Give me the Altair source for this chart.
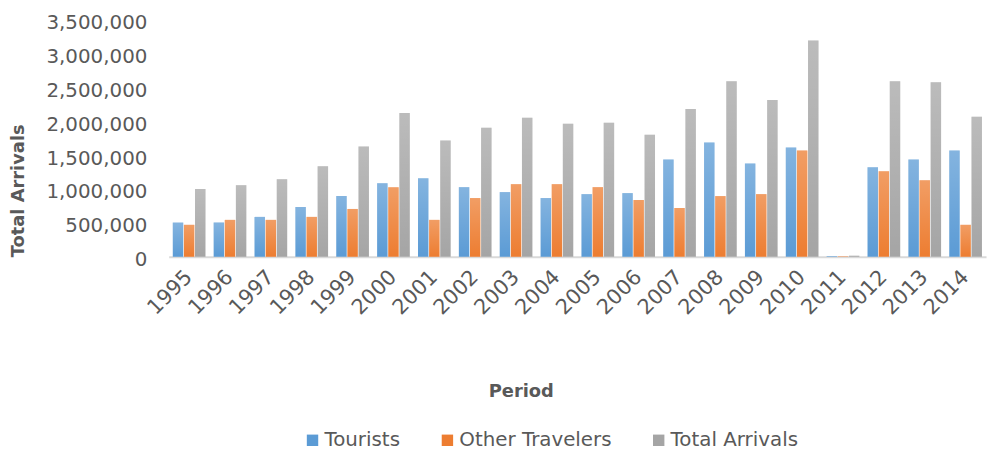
import altair as alt
import pandas as pd

years = ["1995", "1996", "1997", "1998", "1999", "2000", "2001", "2002", "2003", "2004",
         "2005", "2006", "2007", "2008", "2009", "2010", "2011", "2012", "2013", "2014"]
tourists = [505000, 506000, 589000, 735000, 896000, 1086000, 1159000, 1028000, 955000, 867000,
            925000, 940000, 1437000, 1686000, 1379000, 1613000, 9000, 1320000, 1437000, 1569000]
other_travelers = [472000, 545000, 545000, 589000, 706000, 1028000, 545000, 867000, 1072000, 1072000,
                   1028000, 838000, 721000, 896000, 925000, 1569000, 7000, 1262000, 1130000, 472000]
total_arrivals = [1000000, 1057000, 1145000, 1335000, 1627000, 2124000, 1715000, 1905000, 2051000, 1963000,
                  1978000, 1803000, 2183000, 2592000, 2314000, 3192000, 16000, 2592000, 2578000, 2066000]

series = ["Tourists", "Other Travelers", "Total Arrivals"]
colors = ["#5B9BD5", "#ED7D31", "#A5A5A5"]
y_ticks = [0, 500000, 1000000, 1500000, 2000000, 2500000, 3000000, 3500000]

rows = []
for name, vals in zip(series, [tourists, other_travelers, total_arrivals]):
    for yr, v in zip(years, vals):
        rows.append({"Year": yr, "Series": name, "Value": v})
df = pd.DataFrame(rows)

FONT = "DejaVu Sans"
GREY = "#595959"

base = alt.Chart(df).encode(
    x=alt.X(
        "Year:N",
        sort=years,
        scale=alt.Scale(paddingInner=0.2, paddingOuter=0.1),
        axis=alt.Axis(
            title="Period",
            labelAngle=-45,
            labelAlign="right",
            labelBaseline="middle",
            labelFont=FONT,
            labelFontSize=21,
            labelColor=GREY,
            labelPadding=17,
            ticks=False,
            domainColor="#D9D9D9",
            domainWidth=2,
            grid=False,
            titleFont=FONT,
            titleFontSize=18,
            titleFontWeight="bold",
            titleColor=GREY,
            titleX=355,
            titleY=141,
            titleBaseline="alphabetic",
            titleAlign="center",
        ),
    ),
    xOffset=alt.XOffset("Series:N", sort=series, scale=alt.Scale(domain=series, paddingInner=0.06)),
    y=alt.Y(
        "Value:Q",
        scale=alt.Scale(domain=[0, 3500000], nice=False),
        axis=alt.Axis(
            title="Total Arrivals",
            values=y_ticks,
            format=",d",
            labelFont=FONT,
            labelFontSize=20,
            labelColor=GREY,
            labelPadding=22,
            labelOffset=3,
            ticks=False,
            domain=False,
            grid=False,
            titleFont=FONT,
            titleFontSize=18,
            titleFontWeight="bold",
            titleColor=GREY,
            titleX=-151,
            titleY=172,
            titleAlign="center",
            titleBaseline="middle",
            titleAngle=270,
        ),
    ),
)

bars = base.mark_bar().encode(
    color=alt.Color(
        "Series:N",
        sort=series,
        scale=alt.Scale(domain=series, range=colors),
        legend=alt.Legend(
            title=None,
            orient="none",
            direction="horizontal",
            legendX=135,
            legendY=414,
            symbolType="square",
            symbolSize=132,
            symbolStrokeWidth=0,
            labelFont=FONT,
            labelFontSize=20,
            labelColor=GREY,
            labelOffset=2,
            columnPadding=37,
        ),
    )
)

shine = base.mark_bar(
    color=alt.Gradient(
        gradient="linear",
        x1=0, y1=0, x2=0, y2=1,
        stops=[
            alt.GradientStop(offset=0, color="rgba(255,255,255,0.25)"),
            alt.GradientStop(offset=1, color="rgba(255,255,255,0)"),
        ],
    )
)

chart = alt.layer(bars, shine).properties(
    width=824,
    height=239,
    autosize=alt.AutoSizeParams(type="none"),
    padding={"left": 162, "top": 10, "right": 5, "bottom": 195},
).configure_view(stroke=None)

chart.save("out.html", embed_options={"renderer": "svg", "actions": False})
